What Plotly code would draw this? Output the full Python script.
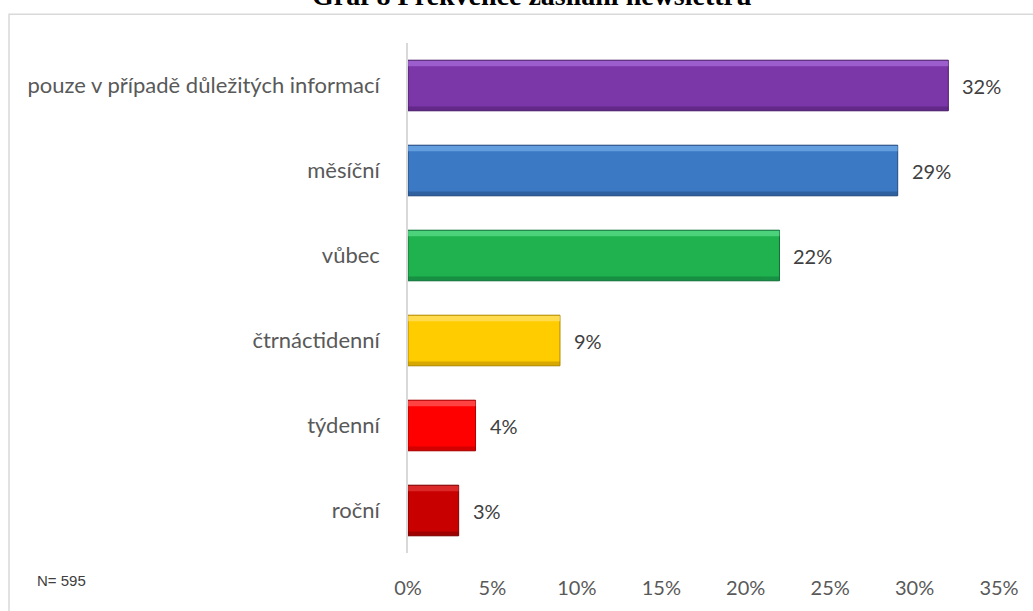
import plotly.graph_objects as go

# Newsletter frequency survey (N = 595), shares in percent
categories = ["roční", "týdenní", "čtrnáctidenní", "vůbec", "měsíční",
              "pouze v případě důležitých informací"]
shares = [3, 4, 9, 22, 29, 32]
bar_colors = ["#C80000", "#FF0000", "#FFCC00", "#1FB24E", "#3C79C4", "#7B36A8"]
light_colors = ["#E84545", "#FF7070", "#FFE680", "#6BE899", "#7DB8F2", "#B57AE6"]
dark_colors = ["#7A0000", "#A80000", "#B08800", "#10703A", "#23497E", "#4A1D6B"]
x_ticks = [0, 5, 10, 15, 20, 25, 30, 35]
x_tick_labels = [f"{t}%" for t in x_ticks]

title_text = "Graf 8 Frekvence zasílání newslettru"
note_text = "N= 595"

FONT = "Lato"
GREY = "#595959"
BAR_W = 0.595

fig = go.Figure()

# main bars
fig.add_trace(go.Bar(
    x=shares, y=categories, orientation="h",
    width=BAR_W,
    marker=dict(color=bar_colors, line=dict(color=dark_colors, width=1)),
    hoverinfo="skip", showlegend=False,
))
# bevel highlight along the top edge
fig.add_trace(go.Bar(
    x=shares, y=categories, orientation="h",
    width=0.06, offset=BAR_W / 2 - 0.07,
    marker=dict(color=light_colors, line=dict(width=0)),
    opacity=0.6, hoverinfo="skip", showlegend=False,
))
# bevel shade along the bottom edge
fig.add_trace(go.Bar(
    x=shares, y=categories, orientation="h",
    width=0.05, offset=-BAR_W / 2,
    marker=dict(color=dark_colors, line=dict(width=0)),
    opacity=0.5, hoverinfo="skip", showlegend=False,
))

# value labels to the right of each bar
for c, v in zip(categories, shares):
    fig.add_annotation(
        x=v, y=c, text=f"{v}%", showarrow=False,
        xanchor="left", yanchor="middle", xshift=12,
        font=dict(family=FONT, size=20, color="#404040"),
    )

# title (sits above the chart frame)
fig.add_annotation(
    x=(532 - 408) / 591, y=(557 - 13) / 514, xref="paper", yref="paper",
    text=f"<b>{title_text}</b>", showarrow=False,
    xanchor="center", yanchor="bottom",
    font=dict(family="Liberation Serif", size=28, color="#000000"),
)

# sample size note
fig.add_annotation(
    x=(35 - 408) / 591, y=(557 - 585) / 514, xref="paper", yref="paper",
    text=note_text, showarrow=False, xanchor="left", yanchor="middle",
    font=dict(family="Liberation Sans", size=15, color="#404040"),
)

# chart frame
fig.add_shape(
    type="rect", xref="paper", yref="paper",
    x0=(9 - 408) / 591, x1=1.2, y0=-0.3, y1=(557 - 14) / 514,
    line=dict(color="#D9D9D9", width=1.5), fillcolor="rgba(0,0,0,0)", layer="below",
)

fig.update_layout(
    width=1033, height=611,
    margin=dict(l=408, r=34, t=43, b=54),
    paper_bgcolor="white", plot_bgcolor="white",
    barmode="overlay",
    font=dict(family=FONT, size=20, color=GREY),
    xaxis=dict(
        range=[0, 35], tickvals=x_ticks, ticktext=x_tick_labels,
        showgrid=False, zeroline=False, showline=False, ticks="",
        tickfont=dict(family=FONT, size=20, color=GREY), ticklabelstandoff=21,
        fixedrange=True,
    ),
    yaxis=dict(
        categoryorder="array", categoryarray=categories,
        showgrid=False, zeroline=False, showline=True,
        linecolor="#D9D9D9", linewidth=1.5, ticks="",
        ticklabelstandoff=22,
        tickfont=dict(family=FONT, size=22, color=GREY),
        fixedrange=True,
    ),
)

fig.write_html("out.html")
